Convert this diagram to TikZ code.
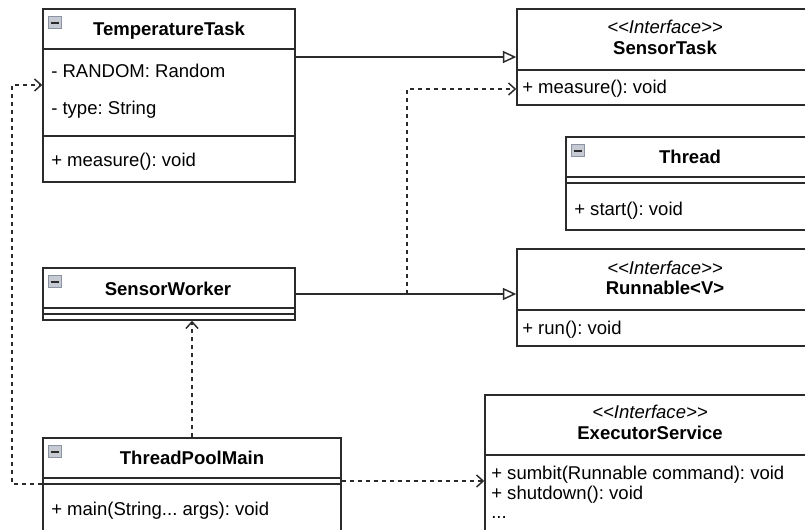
\documentclass[tikz,border=0pt]{standalone}
\usepackage{fontspec}
\setmainfont{Liberation Sans}
\usetikzlibrary{arrows.meta,fit}
\definecolor{icfill}{HTML}{C5CAD3}
\definecolor{icdraw}{HTML}{8C94A3}
\definecolor{ln}{HTML}{2B2B2B}
\newcommand\ifsz{\fontsize{13.9}{16}\selectfont\frenchspacing}
\frenchspacing
\begin{document}
\begin{tikzpicture}[x=0.75pt,y=-0.75pt,
  box/.style={draw=ln, line width=1.1pt, fill=white, rectangle, inner sep=0pt},
  sepl/.style={draw=ln, line width=1.1pt},
  ttl/.style={font=\ifsz\bfseries, inner sep=0pt},
  ster/.style={font=\ifsz\itshape, inner sep=0pt},
  mem/.style={font=\ifsz, inner sep=0pt, anchor=west},
  real/.style={draw=ln, line width=1.1pt, -{Triangle[open,length=10pt,width=9pt,line width=1.1pt]}},
  dep/.style={draw=ln, line width=1.1pt, dash pattern=on 3pt off 3pt, -{Straight Barb[length=5pt,width=9pt,line width=1.1pt]}},
  iconbox/.style={draw=icdraw, fill=icfill, line width=0.8pt},
  icondash/.style={draw=ln, line width=1.4pt}
]
\fill[white] (0,0) rectangle (805,529);
\useasboundingbox (0,0) rectangle (805,529);

% ---------- corner coordinates ----------
\coordinate (tt1) at (43,9);   \coordinate (tt2) at (295,182);
\coordinate (st1) at (517,9);  \coordinate (st2) at (813,105);
\coordinate (th1) at (566,137);\coordinate (th2) at (814,230);
\coordinate (rn1) at (517,249);\coordinate (rn2) at (813,346);
\coordinate (sw1) at (43,268); \coordinate (sw2) at (295,320);
\coordinate (tp1) at (43,438); \coordinate (tp2) at (341,545);
\coordinate (es1) at (485,395);\coordinate (es2) at (816,545);

% ---------- boxes ----------
\node[box, fit=(tt1)(tt2)] (tt) {};
\node[box, fit=(st1)(st2)] (st) {};
\node[box, fit=(th1)(th2)] (th) {};
\node[box, fit=(rn1)(rn2)] (rn) {};
\node[box, fit=(sw1)(sw2)] (sw) {};
\node[box, fit=(tp1)(tp2)] (tp) {};
\node[box, fit=(es1)(es2)] (es) {};

% ---------- separators ----------
\draw[sepl] (tt.west |- 0,49) -- (tt.east |- 0,49);
\draw[sepl] (tt.west |- 0,136) -- (tt.east |- 0,136);
\draw[sepl] (st.west |- 0,70) -- (st.east |- 0,70);
\draw[sepl] (th.west |- 0,177) -- (th.east |- 0,177);
\draw[sepl] (th.west |- 0,183) -- (th.east |- 0,183);
\draw[sepl] (rn.west |- 0,310) -- (rn.east |- 0,310);
\draw[sepl] (sw.west |- 0,308) -- (sw.east |- 0,308);
\draw[sepl] (sw.west |- 0,314) -- (sw.east |- 0,314);
\draw[sepl] (tp.west |- 0,478) -- (tp.east |- 0,478);
\draw[sepl] (tp.west |- 0,484) -- (tp.east |- 0,484);
\draw[sepl] (es.west |- 0,455) -- (es.east |- 0,455);

% ---------- collapse icons ----------
\foreach \b in {tt,th,sw,tp}{
  \draw[iconbox, shift={(\b.north west)}] (6,8.5) rectangle (19,20);
  \draw[icondash, shift={(\b.north west)}] (8.5,14.3) -- (16.5,14.3);
}

% ---------- texts ----------
\node[ttl] (ttT) at (169,31) {TemperatureTask};
\node[mem] (ttA1) at (51,71) {- RANDOM: Random};
\node[mem] (ttA2) at (51,110) {- type: String};
\node[mem] (ttM1) at (51,162) {+ measure(): void};

\node[ster] (stS) at (665,27) {<\kern0pt<Interface>\kern0pt>};
\node[ttl] (stT) at (665,48) {SensorTask};
\node[mem] (stM1) at (522,89) {+ measure(): void};

\node[ttl] (thT) at (690,157) {Thread};
\node[mem] (thM1) at (574,211) {+ start(): void};

\node[ster] (rnS) at (665,268) {<\kern0pt<Interface>\kern0pt>};
\node[ttl] (rnT) at (665,288) {Runnable<V>};
\node[mem] (rnM1) at (522,330) {+ run(): void};

\node[ttl] (swT) at (168,289) {SensorWorker};

\node[ttl] (tpT) at (192,458) {ThreadPoolMain};
\node[mem] (tpM1) at (51,511) {+ main(String... args): void};

\node[ster] (esS) at (650,412) {<\kern0pt<Interface>\kern0pt>};
\node[ttl] (esT) at (650,433) {ExecutorService};
\node[mem, anchor=north west, align=left, font=\fontsize{13.9}{14.6}\selectfont\frenchspacing]
  (esM) at (491,466) {+ sumbit(Runnable command): void\\+ shutdown(): void\\...};

% ---------- connectors ----------
\draw[real] (tt.east |- 0,57) -- (st.west |- 0,57);
\draw[real] (sw.east |- 0,294) -- (rn.west |- 0,294);
\coordinate (br) at (407,294);
\draw[dep] (br) -- (br |- 0,89) -- (st.west |- 0,89);
\draw[dep] (tp.north) -- (tp.north |- sw.south);
\coordinate (lc) at (12,85);
\draw[dep] (tp.west |- 0,484) -| (lc) -- (tt.west |- lc);
\draw[dep] (tp.east |- 0,481) -- (es.west |- 0,481);
\end{tikzpicture}
\end{document}
